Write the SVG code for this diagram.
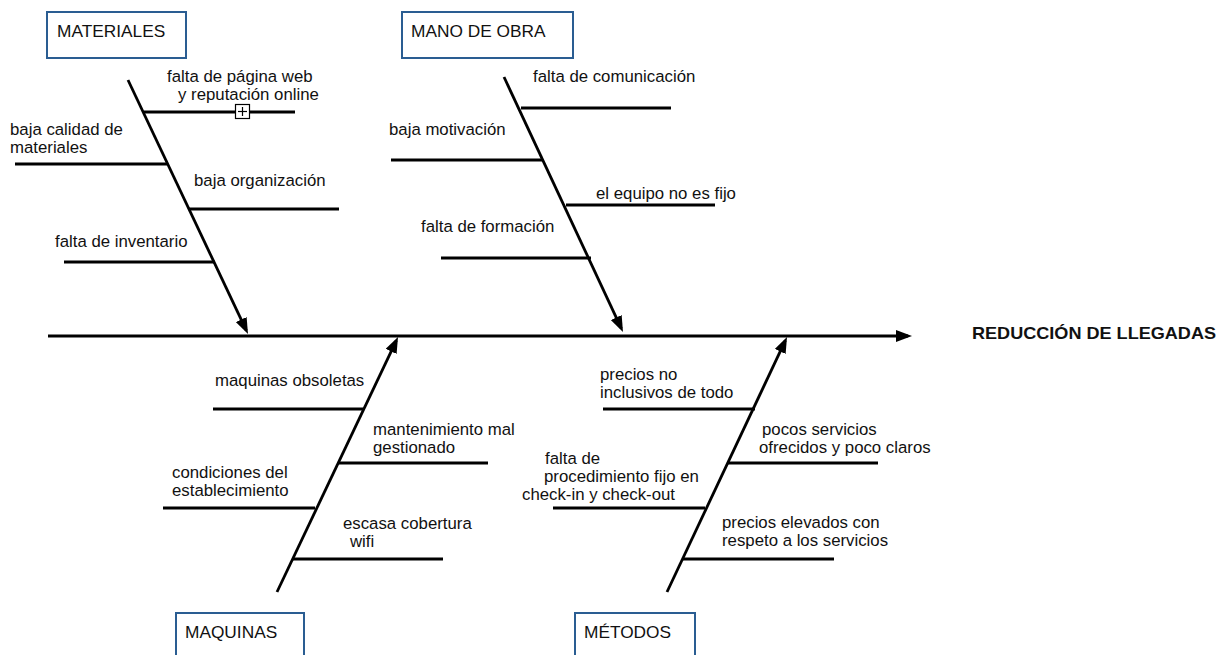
<svg xmlns="http://www.w3.org/2000/svg" width="1224" height="655" viewBox="0 0 1224 655">
<style>
text{font-family:"Liberation Sans",Arial,Helvetica,sans-serif;fill:#111;}
.lbl{font-size:17.3px;}
.t{font-size:16.8px;}
.title{font-size:17px;font-weight:bold;}
.box{fill:#fff;stroke:#2a5d92;stroke-width:2;}
.ln{stroke:#000;stroke-width:2.8;fill:none;}
.arr{stroke:#000;stroke-width:2.8;fill:none;marker-end:url(#ah);}
</style>
<defs>
<marker id="ah" markerUnits="userSpaceOnUse" markerWidth="16" markerHeight="12" refX="12" refY="6" orient="auto">
<path d="M0,0 L16,6 L0,12 z" fill="#000"/>
</marker>
</defs>
<rect width="1224" height="655" fill="#fff"/>

<g id="connectors">
<line class="arr" x1="48" y1="336" x2="908" y2="336"/>
<line class="arr" x1="128" y1="80" x2="246.3" y2="330.4"/>
<line class="arr" x1="504" y1="77" x2="621.3" y2="328.4"/>
<line class="arr" x1="277" y1="592" x2="396.3" y2="340.6"/>
<line class="arr" x1="667" y1="592" x2="785.3" y2="340.6"/>
<!-- materiales -->
<line class="ln" x1="144" y1="112" x2="295" y2="112"/>
<line class="ln" x1="15" y1="164" x2="167" y2="164"/>
<line class="ln" x1="189" y1="209" x2="339" y2="209"/>
<line class="ln" x1="64" y1="262" x2="215" y2="262"/>
<!-- mano de obra -->
<line class="ln" x1="521" y1="108" x2="671" y2="108"/>
<line class="ln" x1="391" y1="160" x2="543" y2="160"/>
<line class="ln" x1="566" y1="205" x2="715" y2="205"/>
<line class="ln" x1="441" y1="258" x2="591" y2="258"/>
<!-- maquinas -->
<line class="ln" x1="213" y1="409" x2="363" y2="409"/>
<line class="ln" x1="339" y1="463" x2="488" y2="463"/>
<line class="ln" x1="163" y1="508" x2="315" y2="508"/>
<line class="ln" x1="293" y1="559" x2="443" y2="559"/>
<!-- metodos -->
<line class="ln" x1="603" y1="409" x2="755" y2="409"/>
<line class="ln" x1="727" y1="463" x2="878" y2="463"/>
<line class="ln" x1="553" y1="508" x2="705" y2="508"/>
<line class="ln" x1="683" y1="559" x2="834" y2="559"/>
</g>

<g id="expand-icon">
<rect x="235.5" y="104.5" width="14" height="14" fill="#fff" stroke="#000" stroke-width="1.2"/>
<line x1="238" y1="111.5" x2="247" y2="111.5" stroke="#000" stroke-width="1.2"/>
<line x1="242.5" y1="107" x2="242.5" y2="116" stroke="#000" stroke-width="1.2"/>
</g>

<g id="node-materiales">
<rect class="box" x="47" y="12" width="139" height="46"/>
<text class="lbl" x="57" y="37">MATERIALES</text>
</g>
<g id="node-mano-de-obra">
<rect class="box" x="402" y="12" width="171" height="46"/>
<text class="lbl" x="411" y="37">MANO DE OBRA</text>
</g>
<g id="node-maquinas">
<rect class="box" x="176" y="613" width="128" height="50"/>
<text class="lbl" x="185" y="638">MAQUINAS</text>
</g>
<g id="node-metodos">
<rect class="box" x="575" y="613" width="120" height="50"/>
<text class="lbl" x="584" y="638">MÉTODOS</text>
</g>
<g id="node-efecto">
<text class="title" x="972" y="339" textLength="244" lengthAdjust="spacingAndGlyphs">REDUCCIÓN DE LLEGADAS</text>
</g>

<g id="causes-materiales">
<text class="t" x="167" y="82">falta de página web</text>
<text class="t" x="178" y="100">y reputación online</text>
<text class="t" x="10" y="135">baja calidad de</text>
<text class="t" x="10" y="153">materiales</text>
<text class="t" x="194" y="186">baja organización</text>
<text class="t" x="55" y="247">falta de inventario</text>
</g>
<g id="causes-mano-de-obra">
<text class="t" x="533" y="82">falta de comunicación</text>
<text class="t" x="389" y="135">baja motivación</text>
<text class="t" x="596" y="199">el equipo no es fijo</text>
<text class="t" x="421" y="232">falta de formación</text>
</g>
<g id="causes-maquinas">
<text class="t" x="215" y="386">maquinas obsoletas</text>
<text class="t" x="373" y="435">mantenimiento mal</text>
<text class="t" x="373" y="453">gestionado</text>
<text class="t" x="172" y="478">condiciones del</text>
<text class="t" x="172" y="496">establecimiento</text>
<text class="t" x="343" y="529">escasa cobertura</text>
<text class="t" x="350" y="547">wifi</text>
</g>
<g id="causes-metodos">
<text class="t" x="600" y="380">precios no</text>
<text class="t" x="600" y="398">inclusivos de todo</text>
<text class="t" x="762" y="435">pocos servicios</text>
<text class="t" x="759" y="453">ofrecidos y poco claros</text>
<text class="t" x="545" y="464">falta de</text>
<text class="t" x="544" y="482">procedimiento fijo en</text>
<text class="t" x="522" y="500">check-in y check-out</text>
<text class="t" x="722" y="528">precios elevados con</text>
<text class="t" x="722" y="546">respeto a los servicios</text>
</g>
</svg>
